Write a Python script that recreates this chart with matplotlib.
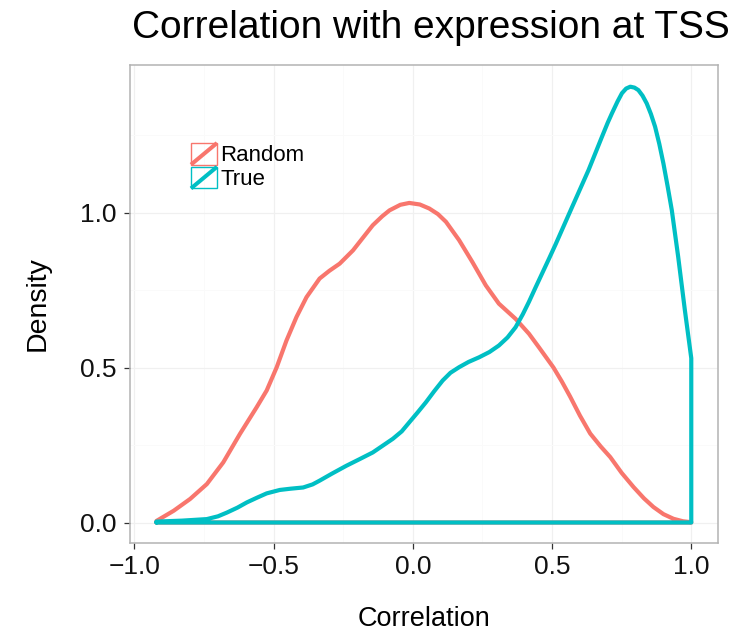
import numpy as np
import matplotlib
matplotlib.use("Agg")
import matplotlib.pyplot as plt
from matplotlib.legend_handler import HandlerBase
from matplotlib.patches import Rectangle
from matplotlib.lines import Line2D

plt.rcParams['font.family'] = ['Liberation Sans', 'DejaVu Sans']

# density of correlations
random_x = [-0.921, -0.859, -0.800, -0.740, -0.681, -0.621, -0.561, -0.525, -0.489, -0.454,
            -0.418, -0.382, -0.335, -0.300, -0.263, -0.215, -0.180, -0.144, -0.110, -0.084,
            -0.045, -0.013, 0.025, 0.059, 0.090, 0.119, 0.166, 0.214, 0.262, 0.309,
            0.369, 0.417, 0.453, 0.505, 0.535, 0.565, 0.600, 0.637, 0.675, 0.709,
            0.750, 0.793, 0.830, 0.864, 0.900, 0.936, 0.970, 1.000]
random_d = [0.005, 0.038, 0.076, 0.124, 0.194, 0.286, 0.372, 0.426, 0.501, 0.587,
            0.663, 0.727, 0.787, 0.812, 0.835, 0.878, 0.918, 0.959, 0.988, 1.007,
            1.025, 1.031, 1.026, 1.013, 0.995, 0.970, 0.911, 0.840, 0.765, 0.706,
            0.657, 0.609, 0.565, 0.500, 0.455, 0.406, 0.345, 0.287, 0.245, 0.211,
            0.160, 0.114, 0.078, 0.050, 0.027, 0.012, 0.004, 0.001]

true_x = [-0.921, -0.830, -0.740, -0.700, -0.668, -0.630, -0.596, -0.560, -0.525, -0.478,
          -0.440, -0.394, -0.360, -0.335, -0.290, -0.239, -0.190, -0.144, -0.072, -0.040,
          -0.013, 0.017, 0.047, 0.077, 0.107, 0.135, 0.166, 0.200, 0.238, 0.275,
          0.309, 0.340, 0.369, 0.395, 0.417, 0.440, 0.465, 0.490, 0.513, 0.572, 0.631,
          0.679, 0.700, 0.715, 0.735, 0.751, 0.766, 0.781, 0.796, 0.810, 0.825,
          0.840, 0.855, 0.870, 0.885, 0.900, 0.915, 0.930, 0.953, 0.977, 1.000]
true_d = [0.003, 0.006, 0.011, 0.020, 0.032, 0.048, 0.065, 0.080, 0.094, 0.105,
          0.109, 0.113, 0.123, 0.135, 0.158, 0.183, 0.205, 0.226, 0.270, 0.294,
          0.323, 0.355, 0.388, 0.424, 0.458, 0.483, 0.501, 0.518, 0.533, 0.550,
          0.571, 0.597, 0.630, 0.672, 0.712, 0.757, 0.805, 0.853, 0.898, 1.018, 1.137,
          1.244, 1.290, 1.320, 1.358, 1.385, 1.400, 1.406, 1.403, 1.395, 1.377,
          1.352, 1.318, 1.277, 1.222, 1.158, 1.085, 1.008, 0.857, 0.685, 0.530]

labels = ['Random', 'True']
colors = ['#F8766D', '#00BFC4']


class KeyHandler(HandlerBase):
    # ggplot style key: outlined square with a diagonal stroke
    def create_artists(self, legend, orig_handle, xdescent, ydescent, width, height, fontsize, trans):
        c = orig_handle.get_color()
        box = Rectangle((-xdescent, -ydescent), width, height, facecolor='none',
                        edgecolor=c, lw=1.0, transform=trans)
        diag = Line2D([-xdescent, -xdescent + width], [-ydescent, -ydescent + height],
                      color=c, lw=2.9, solid_capstyle='butt', transform=trans)
        return [box, diag]


W, H = 752, 634
fig = plt.figure(figsize=(W / 100, H / 100), dpi=100)
ax = fig.add_axes([130 / W, (H - 542.5) / H, 588 / W, 477.5 / H])

handles = []
for xs, ds, lab, col in [(random_x, random_d, labels[0], colors[0]),
                         (true_x, true_d, labels[1], colors[1])]:
    xs = np.asarray(xs)
    ds = np.asarray(ds)
    # closed outline like geom_density
    px = np.concatenate([[xs[0]], xs, [xs[-1], xs[0]]])
    py = np.concatenate([[0], ds, [0, 0]])
    ax.plot(px, py, color=col, lw=3.0, solid_joinstyle='round', solid_capstyle='round')
    handles.append(Line2D([], [], color=col))

ax.set_xlim(-1.016, 1.096)
ax.set_ylim(-0.0645, 1.476)
ax.set_xticks([-1.0, -0.5, 0.0, 0.5, 1.0])
ax.set_xticklabels(['\u22121.0', '\u22120.5', '0.0', '0.5', '1.0'])
ax.set_yticks([0.0, 0.5, 1.0])
ax.set_yticklabels(['0.0', '0.5', '1.0'])
ax.set_xticks([-0.75, -0.25, 0.25, 0.75], minor=True)
ax.set_yticks([0.25, 0.75, 1.25], minor=True)
ax.tick_params(which='major', labelsize=19, length=4.3, width=0.9, color='#333333',
               labelcolor='#111111')
ax.tick_params(axis='x', which='major', pad=4.5)
ax.tick_params(axis='y', which='major', pad=5.5)
ax.tick_params(which='minor', length=0)
ax.grid(which='major', color='#F0F0F0', lw=0.9)
ax.grid(which='minor', color='#FAFAFA', lw=0.7)
ax.set_axisbelow(True)
for s in ax.spines.values():
    s.set_color('#B3B3B3')
    s.set_linewidth(1.1)

ax.set_xlabel('Correlation', fontsize=19.5, va='baseline')
ax.xaxis.set_label_coords(0.5, -(626 - 542.5) / 477.5)
ax.set_ylabel('Density', fontsize=20.5, va='baseline')
ax.yaxis.set_label_coords((45 - 130) / 588, 0.5)

fig.text(431 / W, 1 - 38.3 / H, 'Correlation with expression at TSS', fontsize=28,
         ha='center', va='baseline')

ax.legend(handles, labels, handler_map={Line2D: KeyHandler()},
          loc='upper left', bbox_to_anchor=(191 / W, 1 - 143 / H), bbox_transform=fig.transFigure,
          frameon=False, fontsize=16, borderpad=0, borderaxespad=0, handlelength=1.17,
          handleheight=1.12, handletextpad=0.15, labelspacing=0.02)

fig.savefig('out.png', dpi=100)
